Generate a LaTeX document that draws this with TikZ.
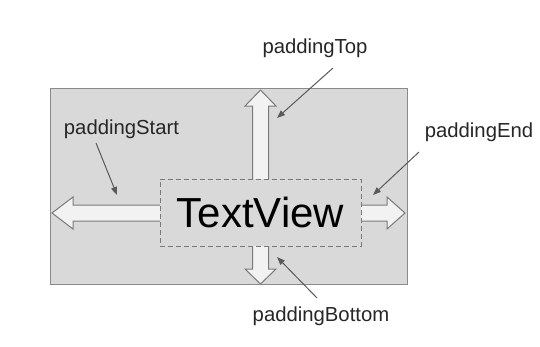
\documentclass[tikz,border=0pt]{standalone}
\usepackage{fontspec}
\setmainfont{Liberation Sans}
\usetikzlibrary{arrows.meta}
\definecolor{panel}{HTML}{D9D9D9}
\definecolor{panelline}{HTML}{8A8A8A}
\definecolor{arrowfill}{HTML}{F2F2F2}
\definecolor{arrowline}{HTML}{7A7A7A}
\definecolor{leader}{HTML}{5A5A5A}
\tikzset{
  lbl/.style={font=\fontsize{20.3}{24}\selectfont, text=black!85, inner sep=0pt},
  blockfill/.style={fill=arrowfill, draw=none},
  blockline/.style={draw=arrowline, line width=1pt, line join=miter},
  leaderarrow/.style={draw=leader, line width=1pt, -{Triangle[length=8pt,width=6pt]}},
}
\begin{document}
\begin{tikzpicture}[x=1pt,y=-1pt]
\useasboundingbox (0,0) rectangle (540,346);
% outer panel
\draw[fill=panel, draw=panelline, line width=1pt] (50,88) rectangle (407,284);
% left block arrow
\fill[blockfill] (160,205) -- (73,205) -- (73,197) -- (52,213) -- (73,229) -- (73,221) -- (160,221) -- cycle;
\draw[blockline] (160,205) -- (73,205) -- (73,197) -- (52,213) -- (73,229) -- (73,221) -- (160,221);
% right block arrow
\fill[blockfill] (361,205) -- (387,205) -- (387,197) -- (405,213) -- (387,229) -- (387,221) -- (361,221) -- cycle;
\draw[blockline] (361,205) -- (387,205) -- (387,197) -- (405,213) -- (387,229) -- (387,221) -- (361,221);
% top block arrow
\fill[blockfill] (252.5,179) -- (252.5,106) -- (245,106) -- (260.5,90) -- (276,106) -- (268.5,106) -- (268.5,179) -- cycle;
\draw[blockline] (252.5,179) -- (252.5,106) -- (245,106) -- (260.5,90) -- (276,106) -- (268.5,106) -- (268.5,179);
% bottom block arrow
\fill[blockfill] (252.5,246) -- (252.5,269) -- (245,269) -- (260.5,284) -- (276,269) -- (268.5,269) -- (268.5,246) -- cycle;
\draw[blockline] (252.5,246) -- (252.5,269) -- (245,269) -- (260.5,284) -- (276,269) -- (268.5,269) -- (268.5,246);
% TextView box
\node[draw=arrowline, dashed, dash pattern=on 5pt off 3pt, line width=1pt, fill=panel,
      minimum width=201pt, minimum height=67pt, inner sep=0pt,
      font=\fontsize{42}{48}\selectfont] (tv) at (260.5,212.5) {TextView};
% labels
\node[lbl] (ptop) at (315,48) {paddingTop};
\node[lbl] (pstart) at (121.5,129) {paddingStart};
\node[lbl] (pend) at (479,132) {paddingEnd};
\node[lbl] (pbottom) at (321,316) {paddingBottom};
% leader coordinates
\coordinate (ptopA) at (333,68);
\coordinate (ptopB) at (277,118);
\coordinate (pstartA) at (96,143);
\coordinate (pstartB) at (117,195);
\coordinate (pendA) at (419,152);
\coordinate (pendB) at (373,195);
\coordinate (pbotA) at (317,298);
\coordinate (pbotB) at (277,257);
\draw[leaderarrow] (ptopA) -- (ptopB);
\draw[leaderarrow] (pstartA) -- (pstartB);
\draw[leaderarrow] (pendA) -- (pendB);
\draw[leaderarrow] (pbotA) -- (pbotB);
\end{tikzpicture}
\end{document}
